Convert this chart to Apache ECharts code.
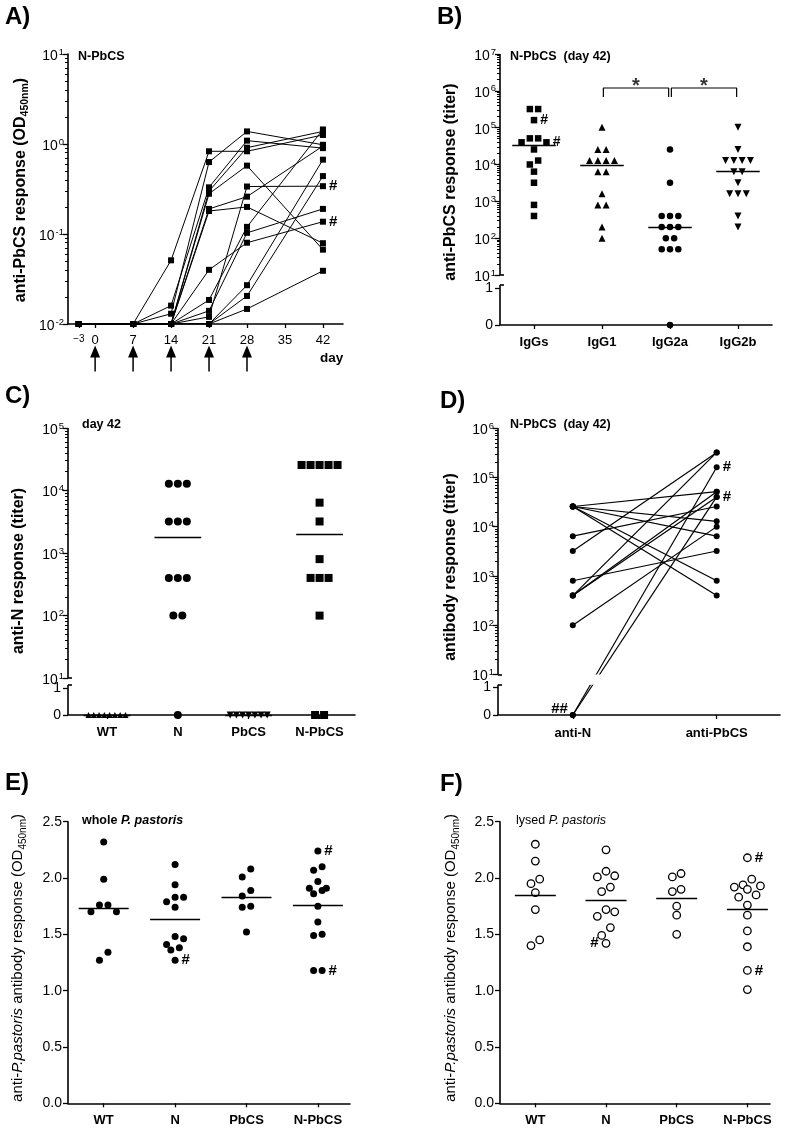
<!DOCTYPE html>
<html><head><meta charset="utf-8">
<script src="https://cdn.jsdelivr.net/npm/echarts@6/dist/echarts.min.js"></script>
<style>html,body{margin:0;padding:0;background:#fff}#c{width:785px;height:1131px}</style>
</head><body><div id="c"></div>
<script>
// ================= DATA =================
// Panel A: anti-PbCS OD450 over time (N-PbCS mice)
const aDays = [-3, 7, 14, 21, 28, 42];
const aTickDays = [-3, 0, 7, 14, 21, 28, 35, 42];
const immunizationDays = [0, 7, 14, 21, 28];
const aDecades = [-2, -1, 0, 1];
const aMice = [
  [0.01, 0.01, 0.051, 0.83, 0.83, 1.26],
  [0.01, 0.01, 0.013, 0.63, 1.38, 0.98],
  [0.01, 0.01, 0.016, 0.33, 1.09, 0.90],
  [0.01, 0.01, 0.01, 0.30, 0.91, 1.38],
  [0.01, 0.01, 0.01, 0.28, 0.575, 0.067],
  [0.01, 0.01, 0.01, 0.19, 0.26, 0.95],
  [0.01, 0.01, 0.01, 0.18, 0.20, 0.079],
  [0.01, 0.01, 0.01, 0.04, 0.08, 0.137],
  [0.01, 0.01, 0.01, 0.0185, 0.12, 1.45],
  [0.01, 0.01, 0.01, 0.014, 0.103, 0.19],
  [0.01, 0.01, 0.01, 0.012, 0.337, 0.34],
  [0.01, 0.01, 0.01, 0.01, 0.027, 0.67],
  [0.01, 0.01, 0.01, 0.01, 0.0205, 0.44],
  [0.01, 0.01, 0.01, 0.01, 0.0147, 0.039]
];
const aHash = [0,0,0,0,0,0,0,1,0,0,1,0,0,0];

// Panel B: IgG subclass titers (day 42)
const bCats = ['IgGs', 'IgG1', 'IgG2a', 'IgG2b'];
const bIgGs  = [320000,320000,160000,51200,51200,40000,40000,25600,12800,10000,6400,3200,800,400];
const bIgG1  = [102400,25600,25600,12800,12800,12800,12800,6400,6400,1600,800,800,200,100];
const bIgG2a = [25600,3200,400,400,400,200,200,200,100,100,50,50,50,0];
const bIgG2b = [102400,25600,12800,12800,12800,12800,6400,6400,3200,1600,1600,1600,400,200];
const bMedian = [32800, 9600, 200, 6400];
const bHashValues = [[160000, 40000], [], [], []];
const bSigPairs = [[1, 2], [2, 3]];
const bDecades = [1, 2, 3, 4, 5, 6, 7];

// Panel C: anti-N titers (day 42)
const cCats = ['WT', 'N', 'PbCS', 'N-PbCS'];
const cWT = [0,0,0,0,0,0,0,0];
const cN = [12800,12800,12800,3200,3200,3200,400,400,400,100,100,0];
const cPbCS = [0,0,0,0,0,0,0];
const cNPbCS = [25600,25600,25600,25600,25600,6400,3200,800,400,400,400,100,0,0];
const cMedian = [0, 1800, 0, 2000];
const cDecades = [1, 2, 3, 4, 5];

// Panel D: paired anti-N / anti-PbCS titers per mouse
const dCats = ['anti-N', 'anti-PbCS'];
const dAntiN    = [25600,25600,25600,25600,25600,6400,3200,800,400,400,400,100,0,0];
const dAntiPbCS = [51200,12800,6400,800,400,25600,320000,3200,320000,51200,40000,10000,160000,40000];
const dHash = [0,0,0,0,0,0,0,0,0,0,0,0,1,1];
const dDecades = [1, 2, 3, 4, 5, 6];

// Panel E: whole P. pastoris OD450
const eCats = ['WT', 'N', 'PbCS', 'N-PbCS'];
const eWT = [2.32,1.99,1.76,1.76,1.70,1.70,1.34,1.27];
const eN = [2.12,1.94,1.83,1.83,1.79,1.74,1.48,1.46,1.41,1.38,1.36,1.27];
const ePbCS = [2.08,2.01,1.89,1.84,1.75,1.74,1.52];
const eNPbCS = [2.24,2.10,2.07,1.97,1.91,1.91,1.89,1.86,1.75,1.61,1.50,1.49,1.18,1.18];
const eMean = [1.73, 1.63, 1.83, 1.76];
const eHashValues = [[], [1.27], [], [2.24, 1.18]];
const eHashSide = ['right', 'right', 'right', 'right'];

// Panel F: lysed P. pastoris OD450
const fCats = ['WT', 'N', 'PbCS', 'N-PbCS'];
const fWT = [2.30,2.15,1.99,1.95,1.87,1.72,1.45,1.40];
const fN = [2.25,2.06,2.02,2.01,1.92,1.88,1.72,1.70,1.66,1.56,1.49,1.42];
const fPbCS = [2.04,2.01,1.90,1.88,1.75,1.67,1.50];
const fNPbCS = [2.18,1.99,1.94,1.93,1.92,1.90,1.85,1.83,1.76,1.67,1.53,1.39,1.18,1.01];
const fMean = [1.85, 1.80, 1.82, 1.72];
const fHashValues = [[], [1.42], [], [2.18, 1.18]];
const fHashSide = ['right', 'left', 'right', 'right'];
const odTicks = [0, 0.5, 1, 1.5, 2, 2.5];

// ================= LAYOUT =================
const FONT = "'Liberation Sans', Arial, Helvetica, sans-serif";
const BLACK = '#000';
const G = [
  {left: 68,  top: 54,    width: 275, height: 270},
  {left: 500, top: 54,    width: 272, height: 271},
  {left: 68,  top: 428,   width: 287, height: 287},
  {left: 498, top: 428,   width: 282, height: 287},
  {left: 68,  top: 821.7, width: 282, height: 281.6},
  {left: 500, top: 821.7, width: 270, height: 281.6}
];
const XR = [{min:-5,max:45.7},{min:-0.5,max:3.5},{min:-0.55,max:3.5},{min:-0.52,max:1.44},{min:-0.5,max:3.45},{min:-0.5,max:3.32}];
const YR = [{min:-2,max:1},{min:-0.358,max:7},{min:0.41,max:5},{min:0.18,max:6},{min:0,max:2.5},{min:0,max:2.5}];
const pxX = G.map((g,i)=> g.width/(XR[i].max-XR[i].min));
const pxY = G.map((g,i)=> g.height/(YR[i].max-YR[i].min));
// broken axes: [0,1] linear section below 10^1
const BRK = {1:{lo0:-0.358, lo1:0.647}, 2:{lo0:0.41, lo1:0.84}, 3:{lo0:0.18, lo1:0.735}};
function makeTf(p){ return v => v >= 10 ? Math.log10(v) : p.lo0 + v*(p.lo1-p.lo0); }
const tfB = makeTf(BRK[1]), tfC = makeTf(BRK[2]), tfD = makeTf(BRK[3]);
const lin = v => v;

const RICH = {
  b: {fontSize: 14, fontFamily: FONT, color: BLACK, lineHeight: 16, padding: [4,0,0,0]},
  e: {fontSize: 9.5, fontFamily: FONT, color: BLACK, lineHeight: 11, padding: [1,0,0,1], verticalAlign: 'top'},
  z: {fontSize: 14, fontFamily: FONT, color: BLACK, padding: [0,3,0,0]},
  m: {fontSize: 10, fontFamily: FONT, color: BLACK},
  n: {fontSize: 13, fontFamily: FONT, color: BLACK}
};
const near = (a,b) => Math.abs(a-b) < 1e-6;

function hashLabel(pos, size, txt, off){
  return {show:true, formatter: txt || '#', position: pos, distance: 3, offset: off || [0,0],
    color: BLACK, fontSize: size, fontWeight: 'bold', fontFamily: FONT};
}
function seg(x1,y1,x2,y2){ return [{coord:[x1,y1]},{coord:[x2,y2]}]; }
function mLine(segs, width, z){
  return {silent:true, symbol:['none','none'], label:{show:false}, emphasis:{disabled:true},
    animation:false, z: z||5, lineStyle:{color:BLACK, width:width, type:'solid', opacity:1}, data: segs};
}
// Prism-like column scatter layout
function swarm(vals, tf, gi, D, W){
  const pts = vals.map(v => ({v, y: tf(v)})).sort((a,b)=> b.y - a.y);
  const rows = [];
  for (const p of pts){
    const r = rows[rows.length-1];
    if (r && (r.start - p.y)*pxY[gi] < D) r.items.push(p); else rows.push({start:p.y, items:[p]});
  }
  for (const r of rows){
    r.items.sort((a,b)=> a.y - b.y);
    const n = r.items.length, sp = n > 1 ? Math.min(D, W/(n-1)) : 0;
    const slots = []; for (let i=0;i<n;i++) slots.push((i-(n-1)/2)*sp);
    let L = 0, R = n-1;
    r.items.forEach((p,k)=>{ const s = (k%2===0) ? slots[L++] : slots[R--]; p.dx = s/pxX[gi]; });
  }
  return pts;
}
function columnSeries(gi, groups, tf, opts){
  const out = [];
  groups.forEach((vals, c) => {
    const pts = swarm(vals, tf, gi, opts.D, opts.W);
    const items = pts.map(p => ({value:[c + p.dx, p.y], _v:p.v, _dx:p.dx}));
    (opts.hash ? opts.hash[c] : []).forEach(hv => {
      const side = opts.hashSide ? opts.hashSide[c] : 'right';
      const cand = items.filter(it => near(it._v, hv));
      if (!cand.length) return;
      cand.sort((a,b)=> side === 'left' ? a._dx - b._dx : b._dx - a._dx);
      cand[0].label = hashLabel(side, opts.hashSize);
    });
    const sym = opts.symbols[c];
    out.push({
      type:'scatter', xAxisIndex:gi, yAxisIndex:gi, silent:true, animation:false, z:4,
      symbol: sym[0], symbolRotate: sym[1], symbolSize: sym[2],
      itemStyle: Object.assign({opacity:1}, opts.itemStyle),
      data: items.map(it => ({value: it.value, label: it.label})),
      markLine: mLine([seg(c-opts.half, tf(opts.center[c]), c+opts.half, tf(opts.center[c]))], 1.3, 5)
    });
  });
  return out;
}
function brokenAxisSeries(gi){
  const p = BRK[gi], xmin = XR[gi].min, ymax = YR[gi].max;
  const capX = 4/pxX[gi], top0 = p.lo1 + 3/pxY[gi];
  return {type:'line', xAxisIndex:gi, yAxisIndex:gi, data:[], symbol:'none', silent:true, clip:false, z:6,
    markLine: mLine([
      seg(xmin, p.lo0, xmin, top0), seg(xmin, 1, xmin, ymax),
      seg(xmin, top0, xmin+capX, top0), seg(xmin, 1, xmin+capX, 1)
    ], 1.6, 12)};
}

// ================= AXES =================
function decadeY(gi, decades){
  const majors = decades.slice();
  if (BRK[gi]) majors.push(BRK[gi].lo0, BRK[gi].lo1);
  return {type:'value', gridIndex:gi, min:YR[gi].min, max:YR[gi].max,
    axisLine:{show: !BRK[gi], onZero:false, lineStyle:{color:BLACK, width:1.6}},
    splitLine:{show:false},
    axisTick:{show:true, length:5, customValues: majors, lineStyle:{color:BLACK, width:1.3}},
    axisLabel:{customValues: majors, margin:4, color:BLACK, fontFamily:FONT, rich:RICH,
      formatter: v => {
        if (BRK[gi] && near(v, BRK[gi].lo0)) return '{z|0}';
        if (BRK[gi] && near(v, BRK[gi].lo1)) return '{z|1}';
        return '{b|10}{e|' + Math.round(v) + '}';
      }}
  };
}
function minorY(gi, decades){
  const minors = [];
  for (let i=0;i<decades.length-1;i++) for (let k=2;k<=9;k++) minors.push(decades[i] + Math.log10(k));
  return {type:'value', gridIndex:gi, min:YR[gi].min, max:YR[gi].max, position:'left',
    axisLine:{show:false, onZero:false}, splitLine:{show:false}, axisLabel:{show:false},
    axisTick:{show:true, length:3, customValues: minors, lineStyle:{color:BLACK, width:1}}};
}
function odY(gi){
  return {type:'value', gridIndex:gi, min:0, max:2.5, interval:0.5,
    axisLine:{show:true, onZero:false, lineStyle:{color:BLACK, width:1.6}},
    splitLine:{show:false},
    axisTick:{show:true, length:5, lineStyle:{color:BLACK, width:1.3}},
    axisLabel:{customValues: odTicks, margin:6, color:BLACK, fontFamily:FONT, fontSize:14, formatter: v => v.toFixed(1)}};
}
function catX(gi, cats){
  const vals = cats.map((_,i)=>i);
  return {type:'value', gridIndex:gi, min:XR[gi].min, max:XR[gi].max,
    axisLine:{show:true, onZero:false, lineStyle:{color:BLACK, width:1.6}},
    axisTick:{show:true, length:4, customValues: vals, lineStyle:{color:BLACK, width:1.3}},
    axisLabel:{customValues: vals, margin:11, color:BLACK, fontFamily:FONT, fontSize:13, fontWeight:'bold',
      formatter: v => cats[Math.round(v)]},
    splitLine:{show:false}};
}
const xAxes = [
  {type:'value', gridIndex:0, min:XR[0].min, max:XR[0].max,
    axisLine:{show:true, onZero:false, lineStyle:{color:BLACK, width:1.6}},
    axisTick:{show:true, length:4, customValues:aTickDays, lineStyle:{color:BLACK, width:1.3}},
    axisLabel:{customValues:aTickDays, margin:10, color:BLACK, fontFamily:FONT, rich:RICH,
      formatter: v => v < 0 ? '{m|\u2212' + Math.abs(v) + '}' : '{n|' + v + '}'},
    splitLine:{show:false}},
  catX(1, bCats), catX(2, cCats),
  {type:'value', gridIndex:3, min:XR[3].min, max:XR[3].max,
    axisLine:{show:true, onZero:false, lineStyle:{color:BLACK, width:1.6}},
    axisTick:{show:true, length:4, customValues:[0,1], lineStyle:{color:BLACK, width:1.3}},
    axisLabel:{customValues:[0,1], margin:12, color:BLACK, fontFamily:FONT, fontSize:13, fontWeight:'bold',
      formatter: v => dCats[Math.round(v)]},
    splitLine:{show:false}},
  catX(4, eCats), catX(5, fCats)
];
const yAxes = [
  decadeY(0, aDecades), decadeY(1, bDecades), decadeY(2, cDecades), decadeY(3, dDecades), odY(4), odY(5),
  minorY(0, aDecades), minorY(1, bDecades), minorY(2, cDecades), minorY(3, dDecades)
];

// ================= SERIES =================
const series = [];
// A
aMice.forEach((m, i) => {
  series.push({type:'line', xAxisIndex:0, yAxisIndex:0, silent:true, animation:false, z:3,
    symbol:'rect', symbolSize:6, showAllSymbol:true,
    lineStyle:{color:BLACK, width:1}, itemStyle:{color:BLACK, opacity:1},
    data: aDays.map((d,j) => {
      const it = {value:[d, Math.log10(m[j])]};
      if (aHash[i] && j === aDays.length-1) it.label = hashLabel('right', 15);
      return it;
    })});
});
const ARROW_Y = YR[0].min - 34.5/pxY[0];
series.push({type:'scatter', xAxisIndex:0, yAxisIndex:0, silent:true, clip:false, z:3,
  symbol:'path://M5 0 L10 12 L5.75 12 L5.75 26 L4.25 26 L4.25 12 L0 12 Z', symbolSize:[10,26],
  itemStyle:{color:BLACK, opacity:1}, data: immunizationDays.map(d => [d, ARROW_Y])});

// B
series.push(...columnSeries(1, [bIgGs, bIgG1, bIgG2a, bIgG2b], tfB, {
  D:8.3, W:36, half:0.32, center:bMedian, hash:bHashValues, hashSize:14,
  symbols:[['rect',0,6.5],['triangle',0,7],['circle',0,6.5],['triangle',180,7]],
  itemStyle:{color:BLACK}}));
const bHigh = 7 - 34/pxY[1], bLow = 7 - 43/pxY[1], bStar = 7 - 32.5/pxY[1];
bSigPairs.forEach(([a,b]) => {
  series.push({type:'line', xAxisIndex:1, yAxisIndex:1, silent:true, symbol:'none', z:4,
    lineStyle:{color:BLACK, width:1.2},
    data:[[a+0.02, bLow],[a+0.02, bHigh],[b-0.02, bHigh],[b-0.02, bLow]]});
  series.push({type:'scatter', xAxisIndex:1, yAxisIndex:1, silent:true, symbolSize:1, z:4,
    itemStyle:{color:'rgba(0,0,0,0)'},
    label:{show:true, formatter:'*', position:'inside', color:BLACK, fontSize:20, fontWeight:'bold', fontFamily:FONT},
    data:[[(a+b)/2, bStar]]});
});
series.push(brokenAxisSeries(1));

// C
series.push(...columnSeries(2, [cWT, cN, cPbCS, cNPbCS], tfC, {
  D:9, W:37, half:0.33, center:cMedian,
  symbols:[['triangle',0,6],['circle',0,8],['triangle',180,7],['rect',0,8]],
  itemStyle:{color:BLACK}}));
series.push(brokenAxisSeries(2));

// D
let dblDone = false;
dAntiN.forEach((n, i) => {
  const d0 = {value:[0, tfD(n)]}, d1 = {value:[1, tfD(dAntiPbCS[i])]};
  if (dHash[i]) {
    d1.label = hashLabel('right', 15);
    if (n === 0 && !dblDone) { d0.label = hashLabel('left', 15, '##', [1,-6]); dblDone = true; }
  }
  series.push({type:'line', xAxisIndex:3, yAxisIndex:3, silent:true, animation:false, z:3,
    symbol:'circle', symbolSize:6, showAllSymbol:true,
    lineStyle:{color:BLACK, width:1.2}, itemStyle:{color:BLACK, opacity:1}, data:[d0, d1]});
});
series.push({type:'line', xAxisIndex:3, yAxisIndex:3, data:[], symbol:'none', silent:true, z:8,
  markArea:{silent:true, z:8, animation:false, itemStyle:{color:'#fff', opacity:1}, label:{show:false},
    data:[[{coord:[XR[3].min, BRK[3].lo1 + 3/pxY[3]]}, {coord:[XR[3].max, 1]}]]}});
series.push(brokenAxisSeries(3));

// E
series.push(...columnSeries(4, [eWT, eN, ePbCS, eNPbCS], lin, {
  D:8.5, W:40, half:0.35, center:eMean, hash:eHashValues, hashSide:eHashSide, hashSize:15,
  symbols:[['circle',0,7],['circle',0,7],['circle',0,7],['circle',0,7]],
  itemStyle:{color:BLACK}}));
// F
series.push(...columnSeries(5, [fWT, fN, fPbCS, fNPbCS], lin, {
  D:8.7, W:40, half:0.29, center:fMean, hash:fHashValues, hashSide:fHashSide, hashSize:15,
  symbols:[['circle',0,7.5],['circle',0,7.5],['circle',0,7.5],['circle',0,7.5]],
  itemStyle:{color:'#fff', borderColor:BLACK, borderWidth:1.3}}));

// ================= TEXTS =================
function txt(x, y, text, style, rot){
  return {type:'text', x, y, rotation: rot || 0, silent:true,
    style: Object.assign({text, fill:BLACK, fontFamily:FONT, fontSize:12, align:'left', verticalAlign:'middle'}, style || {})};
}
const bold = (s) => Object.assign({fontWeight:'bold'}, s);
const titleRich = {
  t: {fontSize:16, fontWeight:'bold', fontFamily:FONT, fill:BLACK, lineHeight:20},
  s: {fontSize:10.5, fontWeight:'bold', fontFamily:FONT, fill:BLACK, lineHeight:20, verticalAlign:'bottom'},
  r: {fontSize:15, fontFamily:FONT, fill:BLACK, lineHeight:20},
  ri: {fontSize:15, fontStyle:'italic', fontFamily:FONT, fill:BLACK, lineHeight:20},
  rs: {fontSize:10, fontFamily:FONT, fill:BLACK, lineHeight:20, verticalAlign:'bottom'},
  wb: {fontSize:12.5, fontWeight:'bold', fontFamily:FONT, fill:BLACK},
  wbi: {fontSize:12.5, fontWeight:'bold', fontStyle:'italic', fontFamily:FONT, fill:BLACK},
  wn: {fontSize:12.5, fontFamily:FONT, fill:BLACK},
  wni: {fontSize:12.5, fontStyle:'italic', fontFamily:FONT, fill:BLACK}
};
const V = Math.PI/2;
const ctr = {align:'center', verticalAlign:'middle', rich:titleRich};
const odTitle = '{r|anti-}{ri|P.pastoris}{r| antibody response (OD}{rs|450nm}{r|)}';
const graphics = [
  txt(5, 17.5, 'A)', bold({fontSize:24})), txt(437, 17.5, 'B)', bold({fontSize:24})),
  txt(5, 396.5, 'C)', bold({fontSize:24})), txt(440, 401.5, 'D)', bold({fontSize:24})),
  txt(5, 783.5, 'E)', bold({fontSize:24})), txt(440, 784.5, 'F)', bold({fontSize:24})),
  txt(78, 57, 'N-PbCS', bold({fontSize:12.5})),
  txt(510, 56.5, 'N-PbCS  (day 42)', bold({fontSize:12.5})),
  txt(82, 425, 'day 42', bold({fontSize:12.5})),
  txt(510, 425, 'N-PbCS  (day 42)', bold({fontSize:12.5})),
  txt(82, 821, '{wb|whole }{wbi|P. pastoris}', {rich:titleRich}),
  txt(516, 821, '{wn|lysed }{wni|P. pastoris}', {rich:titleRich}),
  txt(320, 358, 'day', bold({fontSize:13.5})),
  txt(21, 190, '{t|anti-PbCS response (OD}{s|450nm}{t|)}', ctr, V),
  txt(451, 182, '{t|anti-PbCS response (titer)}', ctr, V),
  txt(19, 571, '{t|anti-N response (titer)}', ctr, V),
  txt(451, 567, '{t|antibody response (titer)}', ctr, V),
  txt(18, 958, odTitle, ctr, V),
  txt(451, 958, odTitle, ctr, V)
];

const option = {
  animation:false,
  backgroundColor:'#fff',
  textStyle:{fontFamily:FONT, color:BLACK},
  grid: G.map(g => Object.assign({containLabel:false, outerBoundsMode:'none'}, g)),
  xAxis: xAxes,
  yAxis: yAxes,
  series: series,
  graphic: graphics
};
const chart = echarts.init(document.getElementById('c'), null, {renderer:'canvas', width:785, height:1131});
chart.setOption(option);
</script></body></html>
